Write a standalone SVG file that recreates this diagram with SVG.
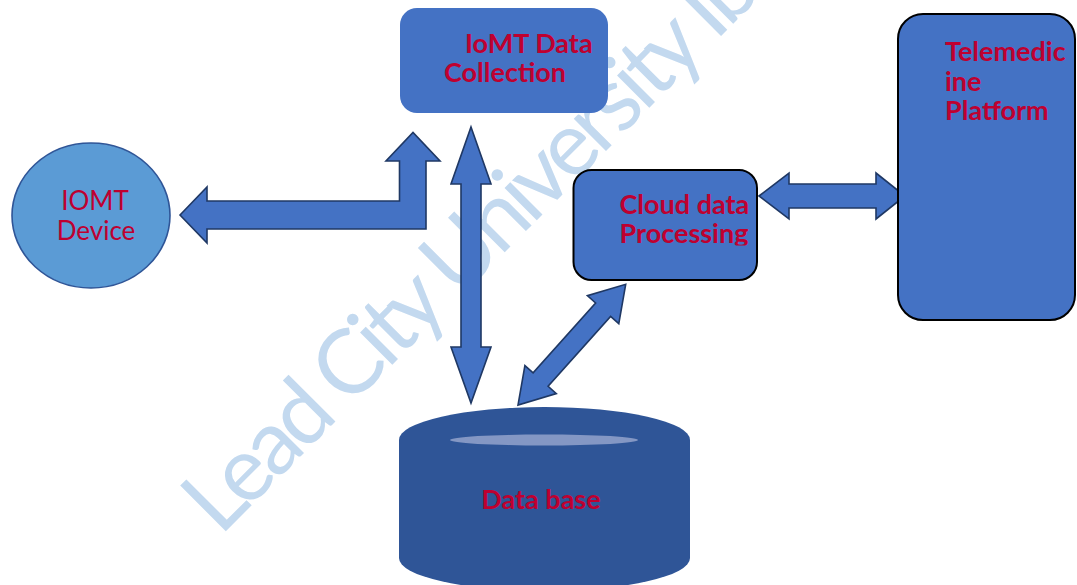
<svg xmlns="http://www.w3.org/2000/svg" width="1077" height="585" viewBox="0 0 1077 585">
  <defs>
    <style>
      .lbl { font-family: Lato, "Liberation Sans", sans-serif; font-weight: 700; font-size: 27px; fill: #BF0030; }
      .lblr { font-family: Lato, "Liberation Sans", sans-serif; font-weight: 400; font-size: 26px; fill: #BF0030; }
      .box { fill: #4472C4; }
      .boxk { fill: #4472C4; stroke: #000000; stroke-width: 2; }
      .arrow { fill: #4472C4; stroke: #1F3864; stroke-width: 1.6; stroke-linejoin: miter; }
      .wm { font-family: Lato, "Liberation Sans", sans-serif; font-weight: 400; font-size: 90px; fill: #C3D9EF; }
    </style>
    <clipPath id="cloudClip">
      <rect x="560" y="160" width="210" height="85.5"/>
    </clipPath>
  </defs>
  <rect width="1077" height="585" fill="#FFFFFF"/>

  <g id="watermark">
    <text class="wm" transform="translate(220,537) rotate(-45)" textLength="770" lengthAdjust="spacing">Lead City University Ib</text>
  </g>

  <g id="connectors">
    <polygon class="arrow" points="180,215 207,187 207,201 399.5,201 399.5,161 386,161 413,132.5 440,161 426,161 426,229 207,229 207,243"/>
    <polygon class="arrow" points="471,127 491,184 481,184 481,347 491,347 471,403 451,347 461,347 461,184 451,184"/>
    <polygon class="arrow" points="625.7,284.3 618.8,323.7 610.6,316.4 548.1,386.3 556.3,393.6 518,405 524.9,365.6 533.1,372.9 595.6,303 587.4,295.7"/>
    <polygon class="arrow" points="759,196 789,173 789,184 876,184 876,173 905,196 876,219 876,208 789,208 789,219"/>
  </g>

  <g id="iomt-device">
    <ellipse cx="91" cy="215.5" rx="79" ry="72.5" fill="#5B9BD5" stroke="#2F5597" stroke-width="1.6"/>
    <text class="lblr" x="95" y="210" text-anchor="middle">IOMT</text>
    <text class="lblr" x="96" y="240" text-anchor="middle">Device</text>
  </g>

  <g id="iomt-data-collection">
    <rect class="box" x="400" y="8" width="208" height="105" rx="17"/>
    <text class="lbl" x="465" y="53">IoMT Data</text>
    <text class="lbl" x="444" y="82">Collection</text>
  </g>

  <g id="cloud-data-processing">
    <rect class="boxk" x="573.5" y="170" width="183.5" height="110" rx="18"/>
    <g clip-path="url(#cloudClip)">
      <text class="lbl" x="619.5" y="213.5">Cloud data</text>
      <text class="lbl" x="619.5" y="242.5">Processing</text>
    </g>
  </g>

  <g id="telemedicine-platform">
    <rect class="boxk" x="898" y="14" width="177" height="306" rx="25"/>
    <text class="lbl" x="945" y="61">Telemedic</text>
    <text class="lbl" x="945" y="91">ine</text>
    <text class="lbl" x="945" y="120">Platform</text>
  </g>

  <g id="database">
    <path d="M399,440 A145.5,33 0 0 1 690,440 L690,558 A145.5,33 0 0 1 399,558 Z" fill="#2F5597"/>
    <ellipse cx="544" cy="440" rx="94" ry="5.5" fill="#8497C4"/>
    <text class="lbl" x="541" y="508.5" text-anchor="middle">Data base</text>
  </g>
</svg>
